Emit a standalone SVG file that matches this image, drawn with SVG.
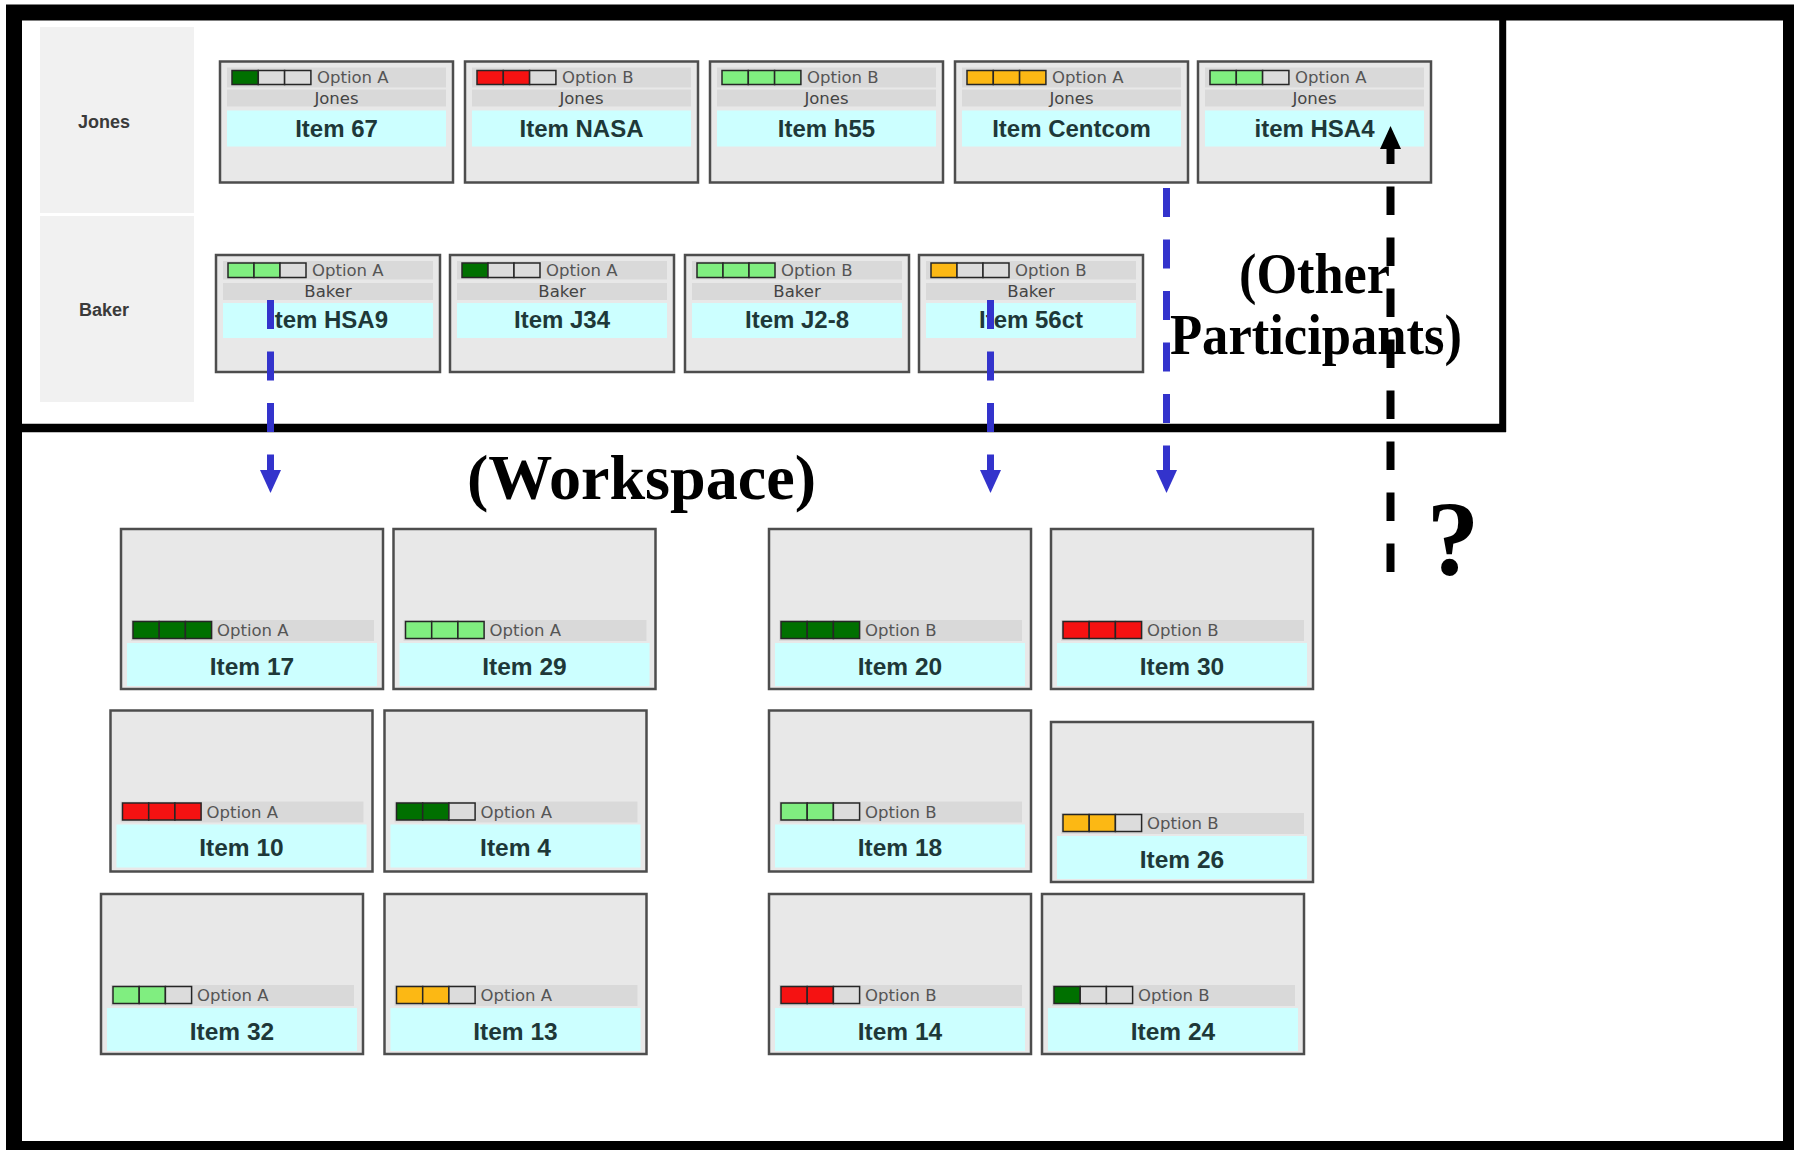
<svg xmlns="http://www.w3.org/2000/svg" width="1794" height="1150" viewBox="0 0 1794 1150">
<style>
.card{fill:#e8e8e8;stroke:#4d4d4d;stroke-width:2.5}
.band{fill:#d9d9d9}
.cyan{fill:#ccffff}
.bar rect{stroke:#262626;stroke-width:1.5}
.e{fill:#dcdcdc}.dg{fill:#007000}.rd{fill:#f51212}.lg{fill:#80ee80}.or{fill:#fcb814}
.opt{font-family:"DejaVu Sans",Verdana,sans-serif;font-size:16.5px;fill:#555}
.nm{font-family:"DejaVu Sans",Verdana,sans-serif;font-size:16.5px;fill:#444;text-anchor:middle}
.item{font-family:"Liberation Sans",Arial,sans-serif;font-weight:bold;font-size:24px;fill:#1e3838;text-anchor:middle}
.witem{font-family:"Liberation Sans",Arial,sans-serif;font-weight:bold;font-size:24.5px;fill:#1e3838;text-anchor:middle}
.lbl{font-family:"Liberation Sans",Arial,sans-serif;font-weight:bold;font-size:18px;fill:#3a3a3a;text-anchor:middle}
.big{font-family:"Liberation Serif","Times New Roman",serif;font-weight:bold;fill:#000;text-anchor:middle}
.lane{fill:#f1f1f1}
.blue{stroke:#3333cc;stroke-width:7;fill:none;stroke-dasharray:29 22.5}
.blk{stroke:#000;stroke-width:8;fill:none;stroke-dasharray:28.5 22.5}
</style>
<rect width="1794" height="1150" fill="#fff"/>

<g id="frame">
<rect x="14" y="12.5" width="1777" height="1136.5" fill="none" stroke="#000" stroke-width="16"/>
<line x1="22" y1="428" x2="1506" y2="428" stroke="#000" stroke-width="8.5"/>
<line x1="1502.7" y1="20" x2="1502.7" y2="432" stroke="#000" stroke-width="7"/>
</g>

<g id="lane-jones">
<rect class="lane" x="40" y="27" width="154" height="186"/>
<text class="lbl" x="104" y="128">Jones</text>
</g>
<g id="lane-baker">
<rect class="lane" x="40" y="216" width="154" height="186"/>
<text class="lbl" x="104" y="316">Baker</text>
</g>

<!-- Jones row -->
<g id="card-item67" transform="translate(220,61.5)">
<rect class="card" width="233" height="121"/>
<rect class="band" x="7" y="6" width="219" height="20"/>
<g class="bar" transform="translate(12,9)"><rect class="dg" width="26.3" height="14"/><rect class="e" x="26.3" width="26.3" height="14"/><rect class="e" x="52.6" width="26.3" height="14"/></g>
<text class="opt" x="97" y="21.5">Option A</text>
<rect class="band" x="7" y="28" width="219" height="17"/>
<text class="nm" x="116.5" y="42">Jones</text>
<rect class="cyan" x="7" y="49" width="219" height="36"/>
<text class="item" x="116.5" y="75">Item 67</text>
</g>
<g id="card-itemNASA" transform="translate(465,61.5)">
<rect class="card" width="233" height="121"/>
<rect class="band" x="7" y="6" width="219" height="20"/>
<g class="bar" transform="translate(12,9)"><rect class="rd" width="26.3" height="14"/><rect class="rd" x="26.3" width="26.3" height="14"/><rect class="e" x="52.6" width="26.3" height="14"/></g>
<text class="opt" x="97" y="21.5">Option B</text>
<rect class="band" x="7" y="28" width="219" height="17"/>
<text class="nm" x="116.5" y="42">Jones</text>
<rect class="cyan" x="7" y="49" width="219" height="36"/>
<text class="item" x="116.5" y="75">Item NASA</text>
</g>
<g id="card-itemh55" transform="translate(710,61.5)">
<rect class="card" width="233" height="121"/>
<rect class="band" x="7" y="6" width="219" height="20"/>
<g class="bar" transform="translate(12,9)"><rect class="lg" width="26.3" height="14"/><rect class="lg" x="26.3" width="26.3" height="14"/><rect class="lg" x="52.6" width="26.3" height="14"/></g>
<text class="opt" x="97" y="21.5">Option B</text>
<rect class="band" x="7" y="28" width="219" height="17"/>
<text class="nm" x="116.5" y="42">Jones</text>
<rect class="cyan" x="7" y="49" width="219" height="36"/>
<text class="item" x="116.5" y="75">Item h55</text>
</g>
<g id="card-itemCentcom" transform="translate(955,61.5)">
<rect class="card" width="233" height="121"/>
<rect class="band" x="7" y="6" width="219" height="20"/>
<g class="bar" transform="translate(12,9)"><rect class="or" width="26.3" height="14"/><rect class="or" x="26.3" width="26.3" height="14"/><rect class="or" x="52.6" width="26.3" height="14"/></g>
<text class="opt" x="97" y="21.5">Option A</text>
<rect class="band" x="7" y="28" width="219" height="17"/>
<text class="nm" x="116.5" y="42">Jones</text>
<rect class="cyan" x="7" y="49" width="219" height="36"/>
<text class="item" x="116.5" y="75">Item Centcom</text>
</g>
<g id="card-itemHSA4" transform="translate(1198,61.5)">
<rect class="card" width="233" height="121"/>
<rect class="band" x="7" y="6" width="219" height="20"/>
<g class="bar" transform="translate(12,9)"><rect class="lg" width="26.3" height="14"/><rect class="lg" x="26.3" width="26.3" height="14"/><rect class="e" x="52.6" width="26.3" height="14"/></g>
<text class="opt" x="97" y="21.5">Option A</text>
<rect class="band" x="7" y="28" width="219" height="17"/>
<text class="nm" x="116.5" y="42">Jones</text>
<rect class="cyan" x="7" y="49" width="219" height="36"/>
<text class="item" x="116.5" y="75">item HSA4</text>
</g>

<!-- Baker row -->
<g id="card-itemHSA9" transform="translate(216,255)">
<rect class="card" width="224" height="117"/>
<rect class="band" x="7" y="6" width="210" height="18.5"/>
<g class="bar" transform="translate(12,8)"><rect class="lg" width="26" height="14.5"/><rect class="lg" x="26" width="26" height="14.5"/><rect class="e" x="52" width="26" height="14.5"/></g>
<text class="opt" x="96" y="21">Option A</text>
<rect class="band" x="7" y="28" width="210" height="17"/>
<text class="nm" x="112" y="41.5">Baker</text>
<rect class="cyan" x="7" y="48" width="210" height="35"/>
<text class="item" x="112" y="73">Item HSA9</text>
</g>
<g id="card-itemJ34" transform="translate(450,255)">
<rect class="card" width="224" height="117"/>
<rect class="band" x="7" y="6" width="210" height="18.5"/>
<g class="bar" transform="translate(12,8)"><rect class="dg" width="26" height="14.5"/><rect class="e" x="26" width="26" height="14.5"/><rect class="e" x="52" width="26" height="14.5"/></g>
<text class="opt" x="96" y="21">Option A</text>
<rect class="band" x="7" y="28" width="210" height="17"/>
<text class="nm" x="112" y="41.5">Baker</text>
<rect class="cyan" x="7" y="48" width="210" height="35"/>
<text class="item" x="112" y="73">Item J34</text>
</g>
<g id="card-itemJ2-8" transform="translate(685,255)">
<rect class="card" width="224" height="117"/>
<rect class="band" x="7" y="6" width="210" height="18.5"/>
<g class="bar" transform="translate(12,8)"><rect class="lg" width="26" height="14.5"/><rect class="lg" x="26" width="26" height="14.5"/><rect class="lg" x="52" width="26" height="14.5"/></g>
<text class="opt" x="96" y="21">Option B</text>
<rect class="band" x="7" y="28" width="210" height="17"/>
<text class="nm" x="112" y="41.5">Baker</text>
<rect class="cyan" x="7" y="48" width="210" height="35"/>
<text class="item" x="112" y="73">Item J2-8</text>
</g>
<g id="card-item56ct" transform="translate(919,255)">
<rect class="card" width="224" height="117"/>
<rect class="band" x="7" y="6" width="210" height="18.5"/>
<g class="bar" transform="translate(12,8)"><rect class="or" width="26" height="14.5"/><rect class="e" x="26" width="26" height="14.5"/><rect class="e" x="52" width="26" height="14.5"/></g>
<text class="opt" x="96" y="21">Option B</text>
<rect class="band" x="7" y="28" width="210" height="17"/>
<text class="nm" x="112" y="41.5">Baker</text>
<rect class="cyan" x="7" y="48" width="210" height="35"/>
<text class="item" x="112" y="73">Item 56ct</text>
</g>

<!-- Workspace -->
<g id="card-item17" transform="translate(121,529)">
<rect class="card" width="262" height="160"/>
<rect class="band" x="10" y="91" width="243" height="21"/>
<g class="bar" transform="translate(12,92.5)"><rect class="dg" width="26.2" height="17"/><rect class="dg" x="26.2" width="26.2" height="17"/><rect class="dg" x="52.4" width="26.2" height="17"/></g>
<text class="opt" x="96" y="107">Option A</text>
<rect class="cyan" x="6" y="114" width="250" height="43"/>
<text class="witem" x="131" y="145.5">Item 17</text>
</g>
<g id="card-item29" transform="translate(393.5,529)">
<rect class="card" width="262" height="160"/>
<rect class="band" x="10" y="91" width="243" height="21"/>
<g class="bar" transform="translate(12,92.5)"><rect class="lg" width="26.2" height="17"/><rect class="lg" x="26.2" width="26.2" height="17"/><rect class="lg" x="52.4" width="26.2" height="17"/></g>
<text class="opt" x="96" y="107">Option A</text>
<rect class="cyan" x="6" y="114" width="250" height="43"/>
<text class="witem" x="131" y="145.5">Item 29</text>
</g>
<g id="card-item20" transform="translate(769,529)">
<rect class="card" width="262" height="160"/>
<rect class="band" x="10" y="91" width="243" height="21"/>
<g class="bar" transform="translate(12,92.5)"><rect class="dg" width="26.2" height="17"/><rect class="dg" x="26.2" width="26.2" height="17"/><rect class="dg" x="52.4" width="26.2" height="17"/></g>
<text class="opt" x="96" y="107">Option B</text>
<rect class="cyan" x="6" y="114" width="250" height="43"/>
<text class="witem" x="131" y="145.5">Item 20</text>
</g>
<g id="card-item30" transform="translate(1051,529)">
<rect class="card" width="262" height="160"/>
<rect class="band" x="10" y="91" width="243" height="21"/>
<g class="bar" transform="translate(12,92.5)"><rect class="rd" width="26.2" height="17"/><rect class="rd" x="26.2" width="26.2" height="17"/><rect class="rd" x="52.4" width="26.2" height="17"/></g>
<text class="opt" x="96" y="107">Option B</text>
<rect class="cyan" x="6" y="114" width="250" height="43"/>
<text class="witem" x="131" y="145.5">Item 30</text>
</g>
<g id="card-item10" transform="translate(110.5,710.5)">
<rect class="card" width="262" height="161"/>
<rect class="band" x="10" y="91" width="243" height="21"/>
<g class="bar" transform="translate(12,92.5)"><rect class="rd" width="26.2" height="17"/><rect class="rd" x="26.2" width="26.2" height="17"/><rect class="rd" x="52.4" width="26.2" height="17"/></g>
<text class="opt" x="96" y="107">Option A</text>
<rect class="cyan" x="6" y="114" width="250" height="43"/>
<text class="witem" x="131" y="145.5">Item 10</text>
</g>
<g id="card-item4" transform="translate(384.5,710.5)">
<rect class="card" width="262" height="161"/>
<rect class="band" x="10" y="91" width="243" height="21"/>
<g class="bar" transform="translate(12,92.5)"><rect class="dg" width="26.2" height="17"/><rect class="dg" x="26.2" width="26.2" height="17"/><rect class="e" x="52.4" width="26.2" height="17"/></g>
<text class="opt" x="96" y="107">Option A</text>
<rect class="cyan" x="6" y="114" width="250" height="43"/>
<text class="witem" x="131" y="145.5">Item 4</text>
</g>
<g id="card-item18" transform="translate(769,710.5)">
<rect class="card" width="262" height="161"/>
<rect class="band" x="10" y="91" width="243" height="21"/>
<g class="bar" transform="translate(12,92.5)"><rect class="lg" width="26.2" height="17"/><rect class="lg" x="26.2" width="26.2" height="17"/><rect class="e" x="52.4" width="26.2" height="17"/></g>
<text class="opt" x="96" y="107">Option B</text>
<rect class="cyan" x="6" y="114" width="250" height="43"/>
<text class="witem" x="131" y="145.5">Item 18</text>
</g>
<g id="card-item26" transform="translate(1051,722)">
<rect class="card" width="262" height="160"/>
<rect class="band" x="10" y="91" width="243" height="21"/>
<g class="bar" transform="translate(12,92.5)"><rect class="or" width="26.2" height="17"/><rect class="or" x="26.2" width="26.2" height="17"/><rect class="e" x="52.4" width="26.2" height="17"/></g>
<text class="opt" x="96" y="107">Option B</text>
<rect class="cyan" x="6" y="114" width="250" height="43"/>
<text class="witem" x="131" y="145.5">Item 26</text>
</g>
<g id="card-item32" transform="translate(101,894)">
<rect class="card" width="262" height="160"/>
<rect class="band" x="10" y="91" width="243" height="21"/>
<g class="bar" transform="translate(12,92.5)"><rect class="lg" width="26.2" height="17"/><rect class="lg" x="26.2" width="26.2" height="17"/><rect class="e" x="52.4" width="26.2" height="17"/></g>
<text class="opt" x="96" y="107">Option A</text>
<rect class="cyan" x="6" y="114" width="250" height="43"/>
<text class="witem" x="131" y="145.5">Item 32</text>
</g>
<g id="card-item13" transform="translate(384.5,894)">
<rect class="card" width="262" height="160"/>
<rect class="band" x="10" y="91" width="243" height="21"/>
<g class="bar" transform="translate(12,92.5)"><rect class="or" width="26.2" height="17"/><rect class="or" x="26.2" width="26.2" height="17"/><rect class="e" x="52.4" width="26.2" height="17"/></g>
<text class="opt" x="96" y="107">Option A</text>
<rect class="cyan" x="6" y="114" width="250" height="43"/>
<text class="witem" x="131" y="145.5">Item 13</text>
</g>
<g id="card-item14" transform="translate(769,894)">
<rect class="card" width="262" height="160"/>
<rect class="band" x="10" y="91" width="243" height="21"/>
<g class="bar" transform="translate(12,92.5)"><rect class="rd" width="26.2" height="17"/><rect class="rd" x="26.2" width="26.2" height="17"/><rect class="e" x="52.4" width="26.2" height="17"/></g>
<text class="opt" x="96" y="107">Option B</text>
<rect class="cyan" x="6" y="114" width="250" height="43"/>
<text class="witem" x="131" y="145.5">Item 14</text>
</g>
<g id="card-item24" transform="translate(1042,894)">
<rect class="card" width="262" height="160"/>
<rect class="band" x="10" y="91" width="243" height="21"/>
<g class="bar" transform="translate(12,92.5)"><rect class="dg" width="26.2" height="17"/><rect class="e" x="26.2" width="26.2" height="17"/><rect class="e" x="52.4" width="26.2" height="17"/></g>
<text class="opt" x="96" y="107">Option B</text>
<rect class="cyan" x="6" y="114" width="250" height="43"/>
<text class="witem" x="131" y="145.5">Item 24</text>
</g>

<g id="labels">
<text class="big" x="1314.5" y="293" font-size="56" textLength="151" lengthAdjust="spacingAndGlyphs">(Other</text>
<text class="big" x="1316" y="354" font-size="56" textLength="292" lengthAdjust="spacingAndGlyphs">Participants)</text>
<text class="big" x="641.5" y="499" font-size="64" textLength="349" lengthAdjust="spacingAndGlyphs">(Workspace)</text>
<text class="big" x="1453" y="575" font-size="105">?</text>
</g>

<g id="connectors">
<line class="blue" x1="270.5" y1="300" x2="270.5" y2="472"/>
<polygon points="260,470 281,470 270.5,493" fill="#3333cc"/>
<line class="blue" x1="990.5" y1="300" x2="990.5" y2="472"/>
<polygon points="980,470 1001,470 990.5,493" fill="#3333cc"/>
<line class="blue" x1="1166.5" y1="188" x2="1166.5" y2="472"/>
<polygon points="1156,470 1177,470 1166.5,493" fill="#3333cc"/>
<line class="blk" x1="1390.5" y1="572" x2="1390.5" y2="145"/>
<polygon points="1380,149 1401,149 1390.5,126" fill="#000"/>
</g>
</svg>
